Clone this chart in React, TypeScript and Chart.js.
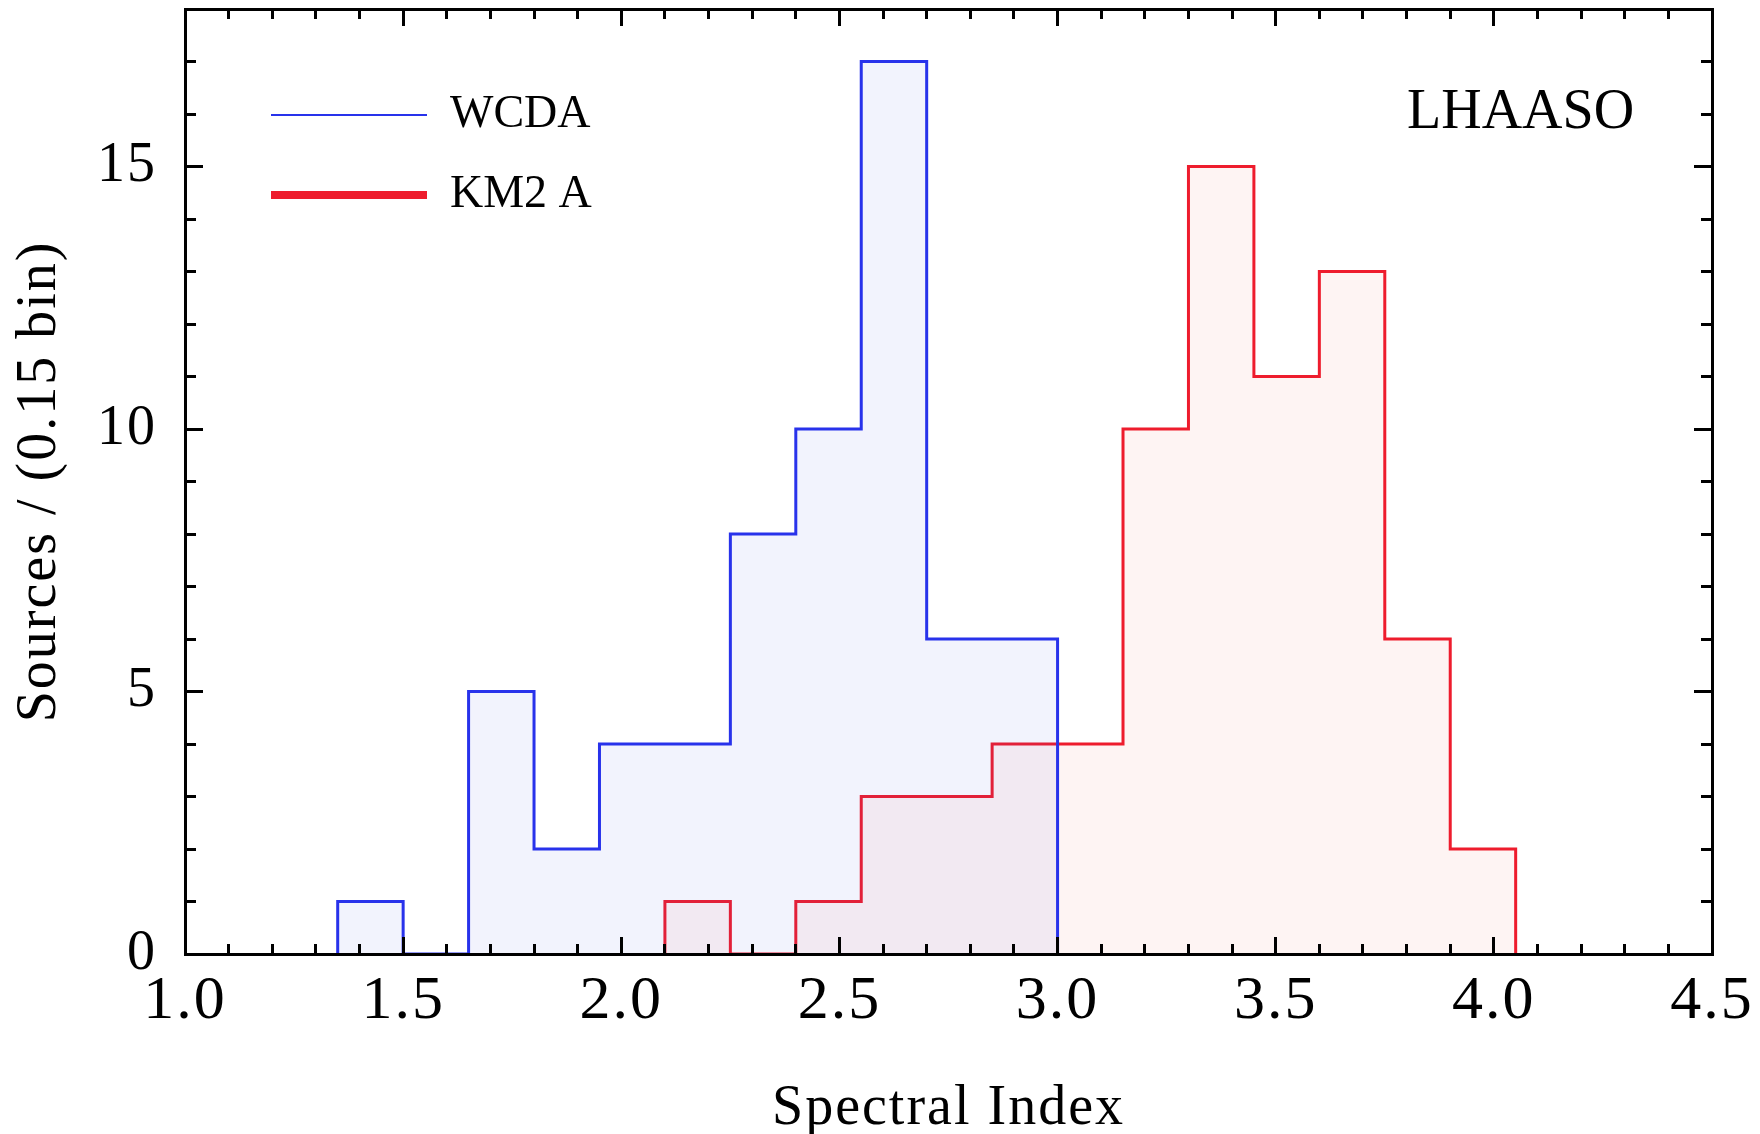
import React, { useEffect, useRef } from 'react';
import { Chart, registerables } from 'chart.js';

Chart.register(...registerables);

// ---- data ----
const wcdaEdges = [1.35, 1.50, 1.65, 1.80, 1.95, 2.10, 2.25, 2.40, 2.55, 2.70, 2.85, 3.00];
const wcdaCounts = [1, 0, 5, 2, 4, 4, 8, 10, 17, 6, 6];
const km2aEdges = [2.10, 2.25, 2.40, 2.55, 2.70, 2.85, 3.00, 3.15, 3.30, 3.45, 3.60, 3.75, 3.90, 4.05];
const km2aCounts = [1, 0, 1, 3, 3, 4, 4, 10, 15, 11, 13, 6, 2];
const seriesLabels = ['WCDA', 'KM2 A'];
const xTitle = 'Spectral Index';
const yTitle = 'Sources / (0.15 bin)';
const annotationText = 'LHAASO';
const xRange = [1.0, 4.5];
const yRange = [0, 18];
const xMajorStep = 0.5;
const xMinorStep = 0.1;
const yMajorStep = 5;
const yMinorStep = 1;

const BLUE = 'rgb(40,50,235)';
const RED = 'rgb(238,28,45)';
const BLUE_FILL = 'rgba(70,90,230,0.07)';
const RED_FILL = 'rgba(240,70,50,0.06)';
const FONT = "'Liberation Serif', 'Times New Roman', serif";

function histPoints(edges: number[], counts: number[]) {
  const pts: { x: number; y: number }[] = [{ x: edges[0], y: 0 }];
  counts.forEach((c, i) => pts.push({ x: edges[i], y: c }));
  pts.push({ x: edges[edges.length - 1], y: 0 });
  return pts;
}

function axis(opts: {
  position: 'left' | 'right' | 'top' | 'bottom';
  range: number[];
  step: number;
  tickLen: number;
  border: boolean;
  weight: number;
  size: number;
  labels?: any;
  title?: any;
}) {
  const horizontal = opts.position === 'top' || opts.position === 'bottom';
  return {
    type: 'linear',
    position: opts.position,
    min: opts.range[0],
    max: opts.range[1],
    weight: opts.weight,
    ticks: opts.labels
      ? { ...opts.labels, stepSize: opts.step, includeBounds: false, autoSkip: false, maxRotation: 0, color: '#000', z: 1 }
      : { display: false, stepSize: opts.step, includeBounds: false, z: 1 },
    grid: {
      drawOnChartArea: false,
      drawTicks: true,
      tickLength: opts.tickLen,
      tickWidth: 3,
      tickColor: '#000',
      lineWidth: 3,
      color: '#000',
      z: 1,
    },
    border: { display: opts.border, color: '#000', width: 3, z: 1 },
    title: opts.title || { display: false },
    afterFit: (s: any) => {
      if (horizontal) s.height = opts.size;
      else s.width = opts.size;
      s.paddingTop = 0;
      s.paddingBottom = 0;
      s.paddingLeft = 0;
      s.paddingRight = 0;
    },
  };
}

const legendPlacer = {
  id: 'legendPlacer',
  afterLayout(chart: any) {
    const lg = chart.legend;
    if (!lg) return;
    const w = lg.width;
    const h = lg.height;
    lg.left = chart.chartArea.left + 52;
    lg.top = chart.chartArea.top + 49;
    lg.right = lg.left + w;
    lg.bottom = lg.top + h;
  },
};

const textPlugin = {
  id: 'textPlugin',
  beforeDraw(chart: any) {
    chart.ctx.letterSpacing = '0px';
  },
  afterDatasetsDraw(chart: any) {
    chart.ctx.letterSpacing = '2px';
  },
  afterDraw(chart: any) {
    const ctx = chart.ctx;
    ctx.save();
    ctx.letterSpacing = '0px';
    ctx.font = `56px ${FONT}`;
    ctx.fillStyle = '#000';
    ctx.textAlign = 'left';
    ctx.textBaseline = 'alphabetic';
    ctx.fillText(annotationText, 1407, 128);
    ctx.restore();
  },
};

export default function App() {
  const ref = useRef<HTMLCanvasElement | null>(null);

  useEffect(() => {
    if (!ref.current) return;
    const chart = new Chart(ref.current, {
      type: 'line',
      data: {
        datasets: [
          {
            label: seriesLabels[0],
            data: histPoints(wcdaEdges, wcdaCounts),
            borderColor: BLUE,
            backgroundColor: BLUE_FILL,
            borderWidth: 3,
            fill: 'origin',
            stepped: 'before',
            pointRadius: 0,
            borderJoinStyle: 'miter',
            xAxisID: 'x',
            yAxisID: 'y',
          },
          {
            label: seriesLabels[1],
            data: histPoints(km2aEdges, km2aCounts),
            borderColor: RED,
            backgroundColor: RED_FILL,
            borderWidth: 3,
            fill: 'origin',
            stepped: 'before',
            pointRadius: 0,
            borderJoinStyle: 'miter',
            xAxisID: 'x',
            yAxisID: 'y',
          },
        ],
      } as any,
      options: {
        responsive: false,
        animation: false,
        devicePixelRatio: 1,
        parsing: false as any,
        layout: { padding: { top: 9, right: 48, bottom: 0, left: 0 } },
        plugins: {
          tooltip: { enabled: false },
          legend: {
            position: 'chartArea' as any,
            align: 'start',
            labels: {
              usePointStyle: true,
              pointStyleWidth: 156,
              padding: 34,
              color: '#000',
              font: { family: FONT, size: 46 },
              generateLabels: () => [
                { text: seriesLabels[0], strokeStyle: BLUE, fillStyle: BLUE, lineWidth: 2, pointStyle: 'line', datasetIndex: 0, hidden: false, fontColor: '#000' },
                { text: seriesLabels[1], strokeStyle: RED, fillStyle: RED, lineWidth: 8, pointStyle: 'line', datasetIndex: 1, hidden: false, fontColor: '#000' },
              ] as any,
            },
          },
        },
        scales: {
          x: axis({
            position: 'bottom', range: xRange, step: xMajorStep, tickLen: -17, border: true, weight: 1, size: 180,
            labels: { font: { family: FONT, size: 62 }, padding: 28, callback: (v: any) => Number(v).toFixed(1) },
            title: { display: true, text: xTitle, color: '#000', font: { family: FONT, size: 56 }, padding: { top: 0, bottom: -9 } },
          }),
          xMinor: axis({ position: 'bottom', range: xRange, step: xMinorStep, tickLen: -10, border: false, weight: 0, size: 0 }),
          xTop: axis({ position: 'top', range: xRange, step: xMajorStep, tickLen: -17, border: true, weight: 1, size: 0 }),
          xTopMinor: axis({ position: 'top', range: xRange, step: xMinorStep, tickLen: -10, border: false, weight: 0, size: 0 }),
          y: axis({
            position: 'left', range: yRange, step: yMajorStep, tickLen: -18, border: true, weight: 1, size: 185,
            labels: { font: { family: FONT, size: 56 }, padding: 46, callback: (v: any) => String(v) },
            title: { display: true, text: yTitle, color: '#000', font: { family: FONT, size: 56 }, padding: { top: 7, bottom: 0 } },
          }),
          yMinor: axis({ position: 'left', range: yRange, step: yMinorStep, tickLen: -11, border: false, weight: 0, size: 0 }),
          yRight: axis({ position: 'right', range: yRange, step: yMajorStep, tickLen: -18, border: true, weight: 1, size: 0 }),
          yRightMinor: axis({ position: 'right', range: yRange, step: yMinorStep, tickLen: -11, border: false, weight: 0, size: 0 }),
        } as any,
      },
      plugins: [legendPlacer, textPlugin],
    });
    return () => chart.destroy();
  }, []);

  return (
    <div style={{ position: 'absolute', left: 0, top: 0, width: 1760, height: 1134, background: '#fff' }}>
      <canvas ref={ref} width={1760} height={1134} style={{ display: 'block' }} />
    </div>
  );
}
